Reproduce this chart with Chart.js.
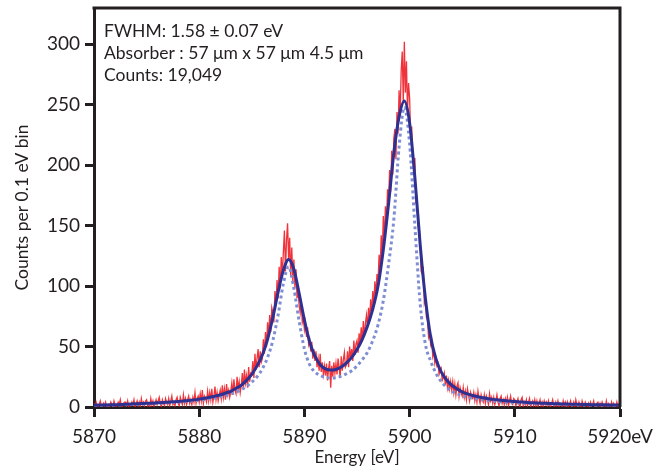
<!DOCTYPE html>
<html>
<head>
<meta charset="utf-8">
<script src="https://cdn.jsdelivr.net/npm/chart.js@4.4.1/dist/chart.umd.min.js"></script>
<style>
  html, body { margin: 0; padding: 0; background: #fff; }
  canvas { display: block; }
</style>
</head>
<body>
<canvas id="spectrum" width="667" height="468"></canvas>
<script>
// measured histogram, 0.1 eV bins starting at 5870 eV
const binStart = 5870;
const binStep = 0.1;
const counts = [
  3,0,4,1,0,2,5,1,0,3,
  1,4,0,2,1,0,4,2,0,5,
  2,0,1,4,2,6,1,0,3,4,
  4,1,5,0,2,1,4,2,6,0,
  2,5,1,4,0,7,2,4,1,5,
  6,1,3,0,7,2,5,0,3,6,
  2,5,8,3,0,6,3,1,7,4,
  2,7,1,5,9,2,4,1,6,8,
  3,1,8,5,2,10,3,7,2,6,
  9,3,6,2,8,4,12,3,7,9,
  4,11,5,14,3,9,7,4,13,5,
  12,6,15,4,9,17,6,12,5,10,
  14,7,18,8,15,6,19,10,14,8,
  13,20,10,23,14,11,25,15,21,12,
  18,28,15,31,20,26,16,33,21,28,
  27,38,24,44,31,40,48,33,46,37,
  40,56,44,62,50,70,58,76,62,82,
  78,70,96,84,105,90,116,98,124,108,
  128,146,112,138,152,122,140,108,132,104,
  122,98,114,90,96,84,78,88,70,74,
  64,70,58,66,52,56,46,54,40,48,
  38,46,33,40,30,44,29,37,27,34,
  26,36,22,32,38,16,34,25,37,28,
  36,27,40,33,24,42,30,39,45,33,
  35,46,33,50,40,48,38,55,43,52,
  55,45,61,52,66,54,71,58,69,76,
  66,82,71,89,77,96,85,104,92,110,
  104,126,112,142,124,158,138,166,150,180,
  170,196,178,212,192,222,230,205,244,226,
  262,240,278,294,252,302,260,286,244,268,
  256,224,232,204,198,206,170,172,150,150,
  136,112,110,116,86,90,74,72,58,62,
  52,56,42,46,36,40,34,36,27,30,
  32,22,24,28,18,26,16,22,15,21,
  14,21,12,19,10,17,20,9,16,12,
  9,16,8,13,6,15,10,5,12,8,
  7,12,5,10,4,13,7,3,10,6,
  4,10,3,9,6,2,11,5,8,3,
  8,2,5,10,4,1,7,9,3,6,
  2,7,3,8,1,5,9,3,2,7,
  6,1,4,7,2,0,6,8,1,4,
  2,6,1,4,7,0,3,5,1,6,
  1,5,0,3,6,1,4,0,5,2,
  4,0,5,1,0,3,6,1,0,4,
  1,5,0,3,2,0,5,1,4,0,
  4,0,2,5,0,1,4,0,6,2,
  0,4,1,0,5,2,0,4,2,0,
  3,0,4,1,2,5,0,0,3,4,
  0,3,0,4,1,2,0,5,0,3,
  2,0,4,0,3,1,0,4,0,2,
  1
];

// fit and natural line shape, sampled every 0.5 eV from 5870 eV
const curveStart = 5870;
const curveStep = 0.5;
const fitCounts = [
  1.5,1.6,1.7,1.8,1.9,2.0,2.2,2.4,2.6,2.8,
  3.0,3.2,3.5,3.7,4.0,4.3,4.6,5.0,5.4,5.9,
  6.5,7.2,8.0,9.0,10,11.5,13,15.5,18,22,
  27,34,43,56,74,95,113,122,114,94,
  72,54,42,35,31.5,30.5,31,33,36.5,41,
  47.5,56,67,81,100,130,168,210,240,253,
  235,190,135,90,58,40,29,22.5,18,15,
  12.5,10.8,9.5,8.5,7.6,6.9,6.3,5.8,5.3,4.9,
  4.5,4.2,3.9,3.6,3.4,3.2,3.0,2.8,2.7,2.5,
  2.4,2.3,2.2,2.1,2.0,1.9,1.8,1.8,1.7,1.6,
  1.6
];
const naturalCounts = [
  1.2,1.3,1.4,1.5,1.6,1.7,1.8,2.0,2.1,2.3,
  2.5,2.7,2.9,3.1,3.4,3.7,4.0,4.3,4.7,5.1,
  5.6,6.1,6.8,7.5,8.4,9.4,10.7,12.3,14.3,17,
  20.5,25,31.5,41,55,76,102,116,98,71,
  48,35,29,26,24.5,24,24.3,25.5,27.5,30,
  34,39,45.5,55,68,88,118,155,215,248,
  218,150,86,52,38,28,21,16.5,13.2,11,
  9.3,8.1,7.1,6.3,5.7,5.2,4.7,4.3,4.0,3.7,
  3.4,3.2,3.0,2.8,2.6,2.5,2.3,2.2,2.1,2.0,
  1.9,1.8,1.7,1.7,1.6,1.5,1.5,1.4,1.4,1.3,
  1.3
];

const xTicks = [5870, 5880, 5890, 5900, 5910, 5920];
const yTicks = [0, 50, 100, 150, 200, 250, 300];
const notes = [
  'FWHM: 1.58 \u00b1 0.07 eV',
  'Absorber : 57 \u03bcm x 57 \u03bcm 4.5 \u03bcm',
  'Counts: 19,049'
];

const ink = '#231f20';
const font = 'Lato, "Open Sans", sans-serif';

const toPoints = (values, start, step) =>
  values.map((v, i) => ({ x: +(start + i * step).toFixed(2), y: v }));

const frame = {
  id: 'frame',
  afterDraw(chart) {
    const { ctx, chartArea: a } = chart;
    ctx.save();
    ctx.strokeStyle = ink;
    ctx.lineWidth = 3;
    ctx.beginPath();
    ctx.moveTo(a.left - 1.5, a.top);
    ctx.lineTo(a.right, a.top);
    ctx.lineTo(a.right, a.bottom);
    ctx.stroke();
    ctx.fillStyle = ink;
    ctx.font = '17.5px ' + font;
    ctx.textBaseline = 'alphabetic';
    notes.forEach((t, i) => ctx.fillText(t, 104, 37 + i * 22));
    ctx.restore();
  }
};

new Chart(document.getElementById('spectrum'), {
  type: 'line',
  data: {
    datasets: [
      {
        label: 'Fit',
        data: toPoints(fitCounts, curveStart, curveStep),
        borderColor: '#2e3192',
        borderWidth: 3,
        pointRadius: 0,
        cubicInterpolationMode: 'monotone',
        order: 1,
      },
      {
        label: 'Natural line shape',
        data: toPoints(naturalCounts, curveStart, curveStep),
        borderColor: '#7f8ed2',
        borderWidth: 3,
        borderDash: [3, 3],
        pointRadius: 0,
        cubicInterpolationMode: 'monotone',
        order: 2,
      },
      {
        label: 'Data',
        data: toPoints(counts, binStart, binStep),
        borderColor: 'rgba(238, 28, 37, 0.9)',
        borderWidth: 1.3,
        pointRadius: 0,
        tension: 0,
        order: 3,
      },
    ],
  },
  options: {
    responsive: false,
    animation: false,
    layout: { padding: { top: 8, right: 47, left: 0, bottom: 0 } },
    plugins: { legend: { display: false }, tooltip: { enabled: false } },
    scales: {
      x: {
        type: 'linear',
        min: 5870,
        max: 5920,
        afterBuildTicks: (s) => { s.ticks = xTicks.map((v) => ({ value: v })); },
        afterFit: (s) => { s.height = 61; s.paddingLeft = 0; s.paddingRight = 0; },
        grid: { drawOnChartArea: false, drawTicks: true, tickLength: 10, tickWidth: 3, tickColor: ink },
        border: { display: true, width: 3, color: ink },
        ticks: {
          color: ink,
          font: { family: font, size: 19 },
          padding: 8,
          maxRotation: 0,
          callback: (v) => (v === 5920 ? '5920eV' : String(v)),
        },
        title: { display: true, text: 'Energy [eV]', color: ink, font: { family: font, size: 17 }, padding: { top: 0, bottom: 0 } },
      },
      y: {
        min: 0,
        max: 330,
        afterBuildTicks: (s) => { s.ticks = yTicks.map((v) => ({ value: v })); },
        afterFit: (s) => { s.width = 94; s.paddingTop = 0; s.paddingBottom = 0; },
        grid: { drawOnChartArea: false, drawTicks: true, tickLength: 9, tickWidth: 3, tickColor: ink },
        border: { display: true, width: 3, color: ink },
        ticks: { color: ink, font: { family: font, size: 19 }, padding: 5 },
        title: { display: true, text: 'Counts per 0.1 eV bin', color: ink, font: { family: font, size: 17.5 }, padding: { top: 12, bottom: 0 } },
      },
    },
  },
  plugins: [frame],
});
</script>
</body>
</html>
